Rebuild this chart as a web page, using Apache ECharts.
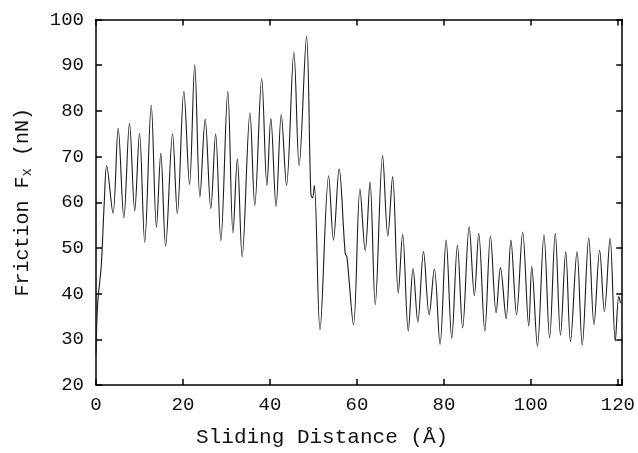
<!DOCTYPE html>
<html>
<head>
<meta charset="utf-8">
<script src="https://cdn.jsdelivr.net/npm/echarts@6/dist/echarts.min.js"></script>
<style>html,body{margin:0;padding:0;background:#fff}#c{width:638px;height:453px}</style>
</head>
<body>
<div id="c"></div>
<script>
// Sliding distance (Å) at the turning points of the trace
var distance = [0, 0.4, 1.2, 1.9, 2.45, 3.9, 5.1, 6.4, 7.7, 8.9, 10.0, 11.2, 12.7, 13.9, 14.9, 16.0, 17.6, 18.7, 20.2, 21.5,
  22.7, 23.9, 25.1, 26.4, 27.5, 28.7, 30.3, 31.5, 32.5, 33.6, 35.4, 36.5, 38.1, 39.3, 40.2, 41.4, 42.6, 43.8, 45.5, 46.7,
  48.4, 49.4, 49.8, 50.2, 51.5, 53.5, 54.6, 55.9, 57.3, 57.7, 59.2, 60.7, 61.9, 63.0, 64.2, 65.9, 67.1, 68.2, 69.5, 70.5,
  71.8, 72.9, 74.0, 75.3, 76.6, 77.8, 79.1, 80.5, 81.8, 83.1, 84.3, 85.8, 87.0, 88.0, 89.4, 90.7, 92.0, 93.0, 94.3, 95.4,
  96.7, 98.1, 99.5, 100.2, 101.5, 103.0, 104.3, 105.6, 106.8, 108.0, 109.1, 110.6, 111.8, 113.3, 114.5, 115.8, 116.9, 118.2, 119.4, 120.2,
  120.6];
// Friction Fx (nN)
var friction = [27, 38, 46, 60, 68, 57.6, 76.2, 56.6, 77.3, 58.1, 75.1, 51.3, 81.3, 54.6, 70.7, 50.4, 75.0, 57.5, 84.3, 63.9,
  90.1, 61.1, 78.2, 58.6, 75.0, 51.6, 84.3, 53.3, 69.5, 48.1, 79.6, 59.3, 87.1, 63.7, 78.4, 59.1, 79.2, 63.7, 92.9, 68.0,
  96.3, 61.8, 61.0, 63.7, 32.1, 65.8, 51.7, 67.3, 48.8, 48.0, 33.2, 62.9, 49.4, 64.4, 37.6, 70.2, 52.6, 65.6, 40.1, 53.0,
  31.8, 45.5, 33.8, 49.2, 35.4, 45.4, 28.9, 51.7, 30.2, 50.6, 32.5, 54.6, 39.6, 53.2, 31.8, 52.6, 35.8, 45.7, 34.5, 51.7,
  35.4, 53.5, 32.9, 45.9, 28.5, 52.9, 30.3, 53.2, 30.9, 49.2, 29.5, 49.2, 28.7, 52.2, 33.2, 49.5, 36.1, 52.1, 29.6, 39.4,
  38];
var xTicks = [0, 20, 40, 60, 80, 100, 120];
var yTicks = [20, 30, 40, 50, 60, 70, 80, 90, 100];

var points = distance.map(function (d, i) { return [d, friction[i]]; });
var font = "'Liberation Mono', 'DejaVu Sans Mono', monospace";
var lineStyle = { color: '#000', width: 1.5 };

var chart = echarts.init(document.getElementById('c'), null, { renderer: 'canvas' });
chart.setOption({
  animation: false,
  backgroundColor: '#fff',
  grid: { left: 96, right: 15.5, top: 19.5, bottom: 65.5 },
  xAxis: [{
    type: 'value', min: 0, max: 121, interval: 20,
    name: 'Sliding Distance (Å)', nameLocation: 'middle', nameGap: 42,
    nameTextStyle: { fontFamily: font, fontSize: 21, color: '#111', padding: [0, 74, 0, 0] },
    axisLine: { show: true, onZero: false, lineStyle: lineStyle },
    axisTick: { show: true, inside: true, length: 6, lineStyle: lineStyle },
    axisLabel: { fontFamily: font, fontSize: 19, color: '#111', margin: 10,
      formatter: function (v) { return xTicks.indexOf(v) >= 0 ? String(v) : ''; } },
    splitLine: { show: false }
  }, {
    type: 'value', position: 'top', min: 0, max: 121, interval: 20,
    axisLine: { show: true, onZero: false, lineStyle: lineStyle },
    axisTick: { show: true, inside: true, length: 6, lineStyle: lineStyle },
    axisLabel: { show: false }, splitLine: { show: false }
  }],
  yAxis: [{
    type: 'value', min: 20, max: 100, interval: 10,
    name: 'Friction F{sub|x} (nN)', nameLocation: 'middle', nameGap: 62, nameRotate: 90,
    nameTextStyle: { fontFamily: font, fontSize: 20, color: '#111',
      rich: { sub: { fontFamily: font, fontSize: 14, color: '#111', verticalAlign: 'bottom', padding: [8, 0, 0, 0] } } },
    axisLine: { show: true, onZero: false, lineStyle: lineStyle },
    axisTick: { show: true, inside: true, length: 6, lineStyle: lineStyle },
    axisLabel: { fontFamily: font, fontSize: 19, color: '#111', margin: 12,
      formatter: function (v) { return yTicks.indexOf(v) >= 0 ? String(v) : ''; } },
    splitLine: { show: false }
  }, {
    type: 'value', position: 'right', min: 20, max: 100, interval: 10,
    axisLine: { show: true, onZero: false, lineStyle: lineStyle },
    axisTick: { show: true, inside: true, length: 6, lineStyle: lineStyle },
    axisLabel: { show: false }, splitLine: { show: false }
  }],
  series: [{
    type: 'line',
    data: points,
    smooth: 0.35,
    symbol: 'none',
    clip: true,
    lineStyle: { color: '#1a1a1a', width: 1.1 }
  }]
});
</script>
</body>
</html>
